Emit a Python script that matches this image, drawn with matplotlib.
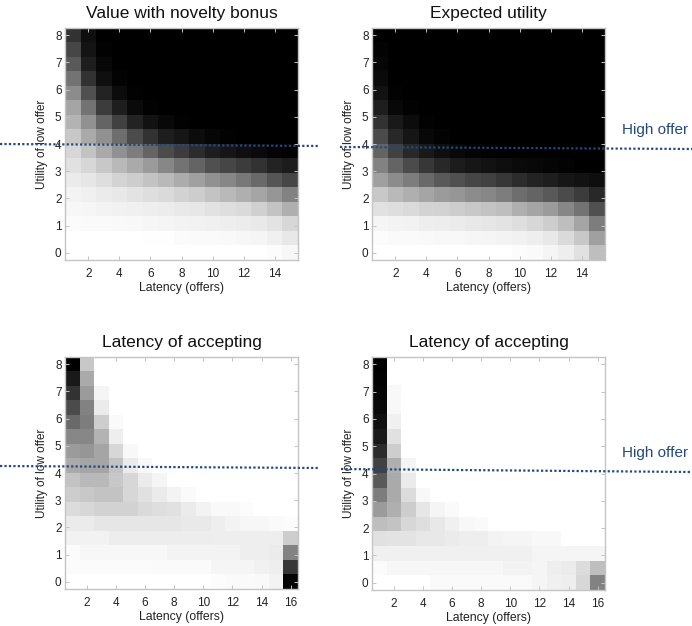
#!/usr/bin/env python3
"""Four grey heatmaps of utility / latency with dotted 'High offer' lines."""

import matplotlib
matplotlib.use('Agg')
import matplotlib.pyplot as plt
from matplotlib.lines import Line2D
import numpy as np

plt.rcParams['font.family'] = ['Liberation Sans', 'DejaVu Sans']

FIG_W, FIG_H = 692, 626
NAVY = '#23497f'
EDGE = '#c4c4c4'

TITLES = ['Value with novelty bonus', 'Expected utility',
          'Latency of accepting', 'Latency of accepting']

# grey levels, top row (utility 8) first
novelty = [
    [50, 15, 0, 0, 0, 0, 0, 0, 0, 0, 0, 0, 0, 0, 0],
    [70, 20, 2, 0, 0, 0, 0, 0, 0, 0, 0, 0, 0, 0, 0],
    [90, 30, 8, 0, 0, 0, 0, 0, 0, 0, 0, 0, 0, 0, 0],
    [115, 50, 15, 3, 0, 0, 0, 0, 0, 0, 0, 0, 0, 0, 0],
    [140, 80, 35, 12, 2, 0, 0, 0, 0, 0, 0, 0, 0, 0, 0],
    [165, 115, 60, 30, 10, 2, 0, 0, 0, 0, 0, 0, 0, 0, 0],
    [180, 145, 100, 65, 35, 18, 8, 2, 0, 0, 0, 0, 0, 0, 0],
    [200, 170, 145, 110, 75, 50, 30, 22, 12, 6, 2, 0, 0, 0, 0],
    [215, 195, 170, 145, 125, 100, 75, 60, 45, 30, 22, 15, 10, 5, 2],
    [225, 215, 200, 185, 170, 155, 135, 115, 100, 80, 70, 60, 50, 35, 28],
    [235, 230, 222, 212, 205, 195, 185, 172, 160, 145, 135, 120, 105, 85, 70],
    [243, 240, 235, 232, 228, 222, 218, 210, 205, 195, 185, 175, 165, 150, 130],
    [247, 246, 243, 241, 240, 238, 236, 233, 231, 226, 222, 218, 208, 195, 175],
    [251, 250, 250, 249, 248, 246, 245, 244, 242, 240, 238, 236, 233, 228, 215],
    [255, 255, 255, 255, 255, 254, 254, 251, 250, 250, 249, 247, 245, 240, 232],
    [255, 255, 255, 255, 255, 255, 255, 255, 255, 255, 255, 255, 255, 252, 247],
]

expected = [
    [0, 0, 0, 0, 0, 0, 0, 0, 0, 0, 0, 0, 0, 0, 0],
    [3, 0, 0, 0, 0, 0, 0, 0, 0, 0, 0, 0, 0, 0, 0],
    [6, 0, 0, 0, 0, 0, 0, 0, 0, 0, 0, 0, 0, 0, 0],
    [10, 0, 0, 0, 0, 0, 0, 0, 0, 0, 0, 0, 0, 0, 0],
    [18, 2, 0, 0, 0, 0, 0, 0, 0, 0, 0, 0, 0, 0, 0],
    [30, 8, 2, 0, 0, 0, 0, 0, 0, 0, 0, 0, 0, 0, 0],
    [50, 25, 12, 2, 0, 0, 0, 0, 0, 0, 0, 0, 0, 0, 0],
    [75, 40, 22, 8, 3, 0, 0, 0, 0, 0, 0, 0, 0, 0, 0],
    [100, 65, 40, 25, 15, 8, 4, 2, 0, 0, 0, 0, 0, 0, 0],
    [130, 100, 75, 55, 40, 28, 22, 18, 14, 10, 8, 5, 3, 0, 0],
    [160, 140, 125, 105, 90, 80, 70, 65, 55, 45, 35, 30, 22, 18, 14],
    [200, 185, 175, 165, 155, 150, 140, 135, 125, 110, 100, 90, 75, 60, 40],
    [225, 222, 218, 212, 210, 205, 200, 195, 190, 175, 165, 155, 135, 115, 80],
    [245, 243, 242, 238, 237, 235, 232, 230, 228, 222, 215, 205, 190, 165, 125],
    [252, 250, 250, 249, 248, 248, 246, 245, 243, 241, 238, 232, 218, 200, 160],
    [255, 255, 255, 255, 255, 255, 255, 255, 255, 252, 250, 245, 238, 225, 190],
]

latency_left = [
    [0, 200, 255, 255, 255, 255, 255, 255, 255, 255, 255, 255, 255, 255, 255, 255],
    [25, 170, 255, 255, 255, 255, 255, 255, 255, 255, 255, 255, 255, 255, 255, 255],
    [50, 155, 245, 255, 255, 255, 255, 255, 255, 255, 255, 255, 255, 255, 255, 255],
    [75, 130, 235, 255, 255, 255, 255, 255, 255, 255, 255, 255, 255, 255, 255, 255],
    [105, 125, 205, 250, 255, 255, 255, 255, 255, 255, 255, 255, 255, 255, 255, 255],
    [135, 135, 180, 238, 255, 255, 255, 255, 255, 255, 255, 255, 255, 255, 255, 255],
    [155, 150, 165, 215, 248, 255, 255, 255, 255, 255, 255, 255, 255, 255, 255, 255],
    [170, 165, 165, 195, 235, 248, 255, 255, 255, 255, 255, 255, 255, 255, 255, 255],
    [195, 185, 185, 200, 215, 235, 245, 255, 255, 255, 255, 255, 255, 255, 255, 255],
    [205, 200, 195, 195, 215, 225, 235, 243, 250, 255, 255, 255, 255, 255, 255, 255],
    [220, 215, 210, 210, 210, 218, 222, 225, 235, 243, 249, 249, 252, 255, 255, 255],
    [235, 235, 230, 230, 230, 230, 230, 230, 233, 233, 238, 243, 247, 247, 250, 252],
    [242, 242, 242, 237, 237, 237, 237, 237, 237, 237, 238, 238, 238, 238, 238, 205],
    [251, 247, 247, 247, 247, 247, 247, 243, 243, 243, 243, 243, 238, 238, 235, 130],
    [251, 251, 251, 251, 251, 251, 250, 250, 250, 250, 245, 245, 245, 241, 238, 55],
    [255, 255, 255, 255, 255, 255, 255, 255, 255, 255, 252, 250, 250, 249, 243, 5],
]

latency_right = [
    [0, 255, 255, 255, 255, 255, 255, 255, 255, 255, 255, 255, 255, 255, 255, 255],
    [2, 255, 255, 255, 255, 255, 255, 255, 255, 255, 255, 255, 255, 255, 255, 255],
    [4, 248, 255, 255, 255, 255, 255, 255, 255, 255, 255, 255, 255, 255, 255, 255],
    [8, 248, 255, 255, 255, 255, 255, 255, 255, 255, 255, 255, 255, 255, 255, 255],
    [15, 240, 255, 255, 255, 255, 255, 255, 255, 255, 255, 255, 255, 255, 255, 255],
    [25, 225, 255, 255, 255, 255, 255, 255, 255, 255, 255, 255, 255, 255, 255, 255],
    [45, 205, 255, 255, 255, 255, 255, 255, 255, 255, 255, 255, 255, 255, 255, 255],
    [65, 175, 245, 255, 255, 255, 255, 255, 255, 255, 255, 255, 255, 255, 255, 255],
    [90, 170, 235, 255, 255, 255, 255, 255, 255, 255, 255, 255, 255, 255, 255, 255],
    [125, 170, 220, 248, 255, 255, 255, 255, 255, 255, 255, 255, 255, 255, 255, 255],
    [155, 175, 205, 230, 245, 250, 255, 255, 255, 255, 255, 255, 255, 255, 255, 255],
    [190, 195, 215, 222, 232, 240, 248, 250, 255, 255, 255, 255, 255, 255, 255, 255],
    [225, 228, 228, 232, 232, 235, 238, 238, 243, 245, 245, 248, 248, 255, 255, 255],
    [240, 240, 240, 240, 240, 240, 240, 240, 240, 240, 240, 245, 245, 245, 245, 245],
    [251, 247, 247, 247, 247, 247, 247, 247, 247, 243, 243, 245, 238, 235, 220, 190],
    [255, 255, 255, 255, 250, 250, 250, 250, 250, 250, 250, 245, 240, 238, 215, 130],
]

PANELS = [novelty, expected, latency_left, latency_right]
X_TICKS = [[2, 4, 6, 8, 10, 12, 14]] * 2 + [[2, 4, 6, 8, 10, 12, 14, 16]] * 2
Y_TICKS = [0, 1, 2, 3, 4, 5, 6, 7, 8]

# axes boxes in pixels: left, top, right, bottom
BOXES = [(65, 28, 298, 260), (372, 28, 605, 260),
         (65, 357, 298, 589), (372, 357, 605, 590)]

# dotted lines run across the page, so these are pixel positions on the figure
OFFER_LINES = [((0, 320), (144, 146)), ((340, 692), (147, 149)),
               ((0, 320), (466, 468)), ((341, 692), (469, 472))]
OFFER_LABELS_Y = [130, 453]


def plot_panel(fig, box, grid, title, x_ticks):
    left, top, right, bottom = box
    ax = fig.add_axes([left / FIG_W, 1 - bottom / FIG_H,
                       (right - left) / FIG_W, (bottom - top) / FIG_H])
    grid = np.array(grid)
    step = 8 / (grid.shape[0] - 1)
    ax.imshow(grid, cmap='gray', vmin=0, vmax=255, aspect='auto',
              interpolation='nearest',
              extent=[0.5, grid.shape[1] + 0.5, -step / 2, 8 + step / 2])
    ax.set_xticks(x_ticks)
    ax.set_yticks(Y_TICKS)
    ax.tick_params(direction='in', length=3, width=0.7, color=EDGE, top=True,
                   right=True, labelsize=8.5, labelcolor='#222222')
    ax.tick_params(axis='x', pad=5.5)
    ax.tick_params(axis='y', pad=2.5)
    for spine in ax.spines.values():
        spine.set_color(EDGE)
        spine.set_linewidth(1.0)
    ax.set_xlabel('Latency (offers)', fontsize=8.8, color='#222222')
    ax.set_ylabel('Utility of low offer', fontsize=8.5, color='#222222')
    ax.xaxis.set_label_coords(0.5, -22 / (bottom - top))
    ax.yaxis.set_label_coords(-17 / (right - left), 0.5)
    ax.set_title(title, fontsize=12.5, pad=7, color='#111111')
    return ax


def main():
    fig = plt.figure(figsize=(FIG_W / 100, FIG_H / 100), dpi=100)
    for box, grid, title, x_ticks in zip(BOXES, PANELS, TITLES, X_TICKS):
        plot_panel(fig, box, grid, title, x_ticks)

    for xs, ys in OFFER_LINES:
        fig.add_artist(Line2D([x / FIG_W for x in xs], [1 - y / FIG_H for y in ys],
                              color=NAVY, linestyle=(0, (1, 1)), linewidth=1.6))
    for y in OFFER_LABELS_Y:
        fig.text(655 / FIG_W, 1 - y / FIG_H, 'High offer', color=NAVY, fontsize=11,
                 ha='center', va='center')

    fig.savefig('out.png', dpi=100)
    plt.close(fig)


if __name__ == '__main__':
    main()
